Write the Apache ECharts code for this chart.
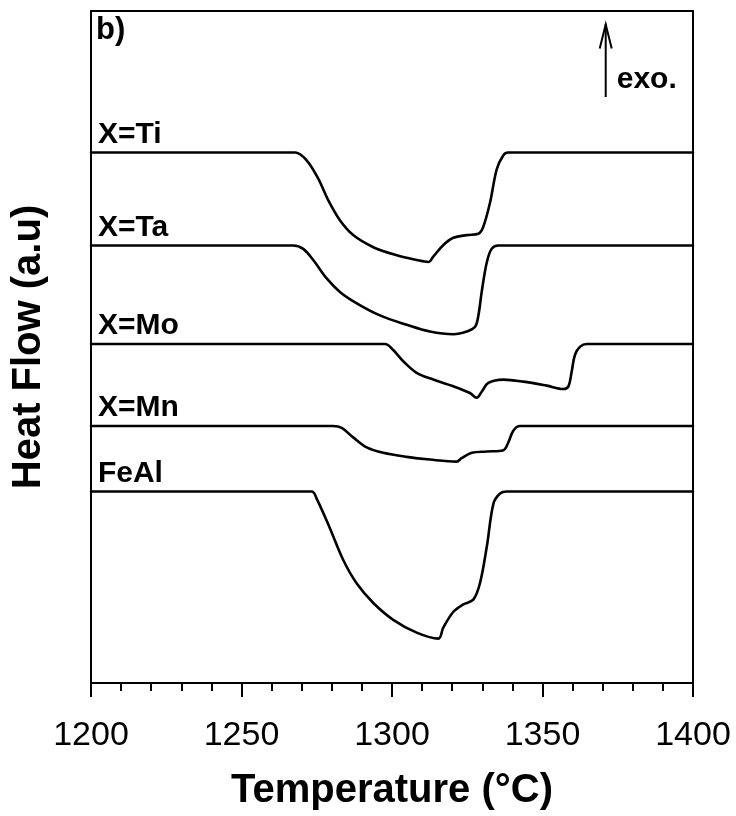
<!DOCTYPE html>
<html>
<head>
<meta charset="utf-8">
<script src="https://cdn.jsdelivr.net/npm/echarts@6/dist/echarts.min.js"></script>
<style>
  html, body { margin: 0; padding: 0; background: #fff; }
  #chart { width: 736px; height: 816px; }
</style>
</head>
<body>
<div id="chart"></div>
<script>
// DSC heating curves, stacked with a vertical offset per alloy.
const sampleNames = ['X=Ti', 'X=Ta', 'X=Mo', 'X=Mn', 'FeAl'];
const stackOffsets = [78.95, 65.1, 50.45, 38.25, 28.5];

const tempTi = [1200, 1267.8, 1271.7, 1275.5, 1278.8, 1282.7, 1287.1, 1293.8, 1301.6, 1308.2, 1312.1, 1313.7, 1317.0, 1320.4, 1324.8, 1328.7, 1330.3, 1332.6, 1334.8, 1337.0, 1338.6, 1400];
const flowTi = [0, 0, -1.2, -3.9, -7.1, -10.1, -12.3, -14.1, -15.3, -16.0, -16.3, -15.5, -13.8, -12.7, -12.3, -12.1, -11.1, -7.4, -2.5, -0.4, 0, 0];

const tempTa = [1200, 1267.2, 1270.5, 1273.9, 1278.3, 1282.7, 1288.3, 1296.0, 1304.9, 1312.6, 1320.4, 1324.8, 1327.6, 1328.7, 1329.8, 1331.5, 1333.1, 1335.3, 1400];
const flowTa = [0, 0, -0.5, -2.2, -4.9, -6.9, -8.6, -10.4, -11.8, -12.8, -13.2, -12.8, -12.1, -10.4, -6.9, -2.5, -0.5, 0, 0];

const tempMo = [1200, 1297.7, 1300.4, 1303.8, 1308.2, 1313.7, 1320.4, 1325.9, 1328.1, 1329.8, 1332.0, 1337.0, 1343.6, 1351.4, 1356.9, 1358.6, 1359.7, 1360.8, 1362.5, 1364.7, 1400];
const flowMo = [0, 0, -0.9, -2.6, -4.3, -5.3, -6.3, -7.3, -8.0, -7.1, -5.8, -5.3, -5.6, -6.2, -6.7, -6.3, -4.1, -1.6, -0.4, 0, 0];

const tempMn = [1200, 1280.5, 1283.3, 1287.1, 1291.6, 1297.1, 1304.9, 1312.6, 1321.5, 1323.1, 1326.5, 1331.5, 1337.0, 1338.6, 1340.3, 1342.5, 1400];
const flowMn = [0, 0, -0.3, -1.7, -3.2, -4.0, -4.6, -5.0, -5.3, -4.8, -4.0, -3.8, -3.6, -2.5, -0.7, 0, 0];

const tempFeAl = [1200, 1273.3, 1275.0, 1279.4, 1283.8, 1288.3, 1293.8, 1300.4, 1308.2, 1315.4, 1317.0, 1320.4, 1323.7, 1327.0, 1329.2, 1331.5, 1333.7, 1335.9, 1338.1, 1400];
const flowFeAl = [0, 0, -1.1, -5.5, -10.2, -13.7, -16.6, -19.1, -21.0, -21.9, -20.3, -17.9, -16.8, -16.1, -13.7, -8.2, -1.8, -0.3, 0, 0];

const temps = [tempTi, tempTa, tempMo, tempMn, tempFeAl];
const flows = [flowTi, flowTa, flowMo, flowMn, flowFeAl];

const xTickValues = [1200, 1250, 1300, 1350, 1400];

const FONT = '"Liberation Sans", Arial, sans-serif';
const chart = echarts.init(document.getElementById('chart'), null, { renderer: 'canvas' });

const series = sampleNames.map((name, k) => ({
  name: name,
  type: 'line',
  data: temps[k].map((t, i) => [t, stackOffsets[k] + flows[k][i]]),
  showSymbol: false,
  smooth: 0.35,
  lineStyle: { color: '#000', width: 2.6, join: 'round', cap: 'round' },
  silent: true,
  z: 3
}));

chart.setOption({
  animation: false,
  backgroundColor: '#fff',
  grid: {
    left: 91, right: 43, top: 11, bottom: 129,
    show: true, borderColor: '#000', borderWidth: 2, backgroundColor: 'transparent'
  },
  xAxis: {
    type: 'value',
    min: xTickValues[0],
    max: xTickValues[xTickValues.length - 1],
    interval: 50,
    name: 'Temperature (°C)',
    nameLocation: 'middle',
    nameGap: 88,
    nameTextStyle: { fontFamily: FONT, fontSize: 40, fontWeight: 'bold', color: '#000' },
    axisLine: { show: true, lineStyle: { color: '#000', width: 2 } },
    axisTick: { show: true, inside: false, length: 14, lineStyle: { color: '#000', width: 2 } },
    minorTick: { show: true, splitNumber: 5, length: 8, lineStyle: { color: '#000', width: 2 } },
    axisLabel: {
      fontFamily: FONT, fontSize: 34, color: '#000', margin: 36,
      formatter: (v) => String(v)
    },
    splitLine: { show: false },
    minorSplitLine: { show: false }
  },
  yAxis: {
    type: 'value',
    min: 0,
    max: 100,
    name: 'Heat Flow (a.u)',
    nameLocation: 'middle',
    nameGap: 42,
    nameTextStyle: { fontFamily: FONT, fontSize: 40, fontWeight: 'bold', color: '#000' },
    axisLine: { show: true, lineStyle: { color: '#000', width: 2 } },
    axisTick: { show: false },
    axisLabel: { show: false },
    splitLine: { show: false }
  },
  series: series
});

// Sample labels sit just above each curve's baseline, near the left frame.
const labelEls = sampleNames.map((name, k) => {
  const p = chart.convertToPixel({ gridIndex: 0 }, [1202.3, stackOffsets[k]]);
  return {
    type: 'text',
    left: p[0],
    top: p[1] - 33,
    style: { text: name, font: 'bold 30px ' + FONT, fill: '#000' }
  };
});

// Exothermic direction arrow.
const arrowBase = chart.convertToPixel({ gridIndex: 0 }, [1371, 87.2]);
const arrowTip = chart.convertToPixel({ gridIndex: 0 }, [1371, 98.0]);

chart.setOption({
  graphic: labelEls.concat([
    {
      type: 'text', left: 96, top: 15,
      style: { text: 'b)', font: 'bold 31px ' + FONT, fill: '#000' }
    },
    {
      type: 'line',
      shape: { x1: arrowBase[0], y1: arrowBase[1], x2: arrowTip[0], y2: arrowTip[1] },
      style: { stroke: '#000', lineWidth: 2 }
    },
    {
      type: 'polyline',
      shape: { points: [[arrowTip[0] - 6, arrowTip[1] + 24], [arrowTip[0], arrowTip[1]], [arrowTip[0] + 6, arrowTip[1] + 24]] },
      style: { stroke: '#000', lineWidth: 2, fill: null }
    },
    {
      type: 'text', left: arrowTip[0] + 11, top: 65,
      style: { text: 'exo.', font: 'bold 30px ' + FONT, fill: '#000' }
    }
  ])
});
</script>
</body>
</html>
